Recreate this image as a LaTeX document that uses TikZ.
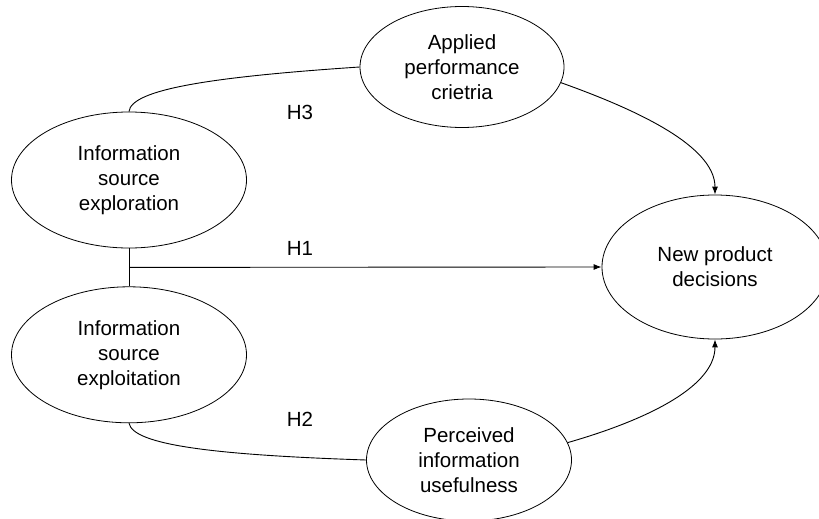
\documentclass[tikz,border=0pt]{standalone}
\usepackage{fontspec}
\setmainfont{Liberation Sans}
\usetikzlibrary{arrows.meta,positioning,shapes.geometric}

\begin{document}
\begin{tikzpicture}[
  x=1pt, y=-1pt,
  font=\fontsize{20.5}{25}\selectfont,
  construct/.style={draw, ellipse, align=center, inner sep=0pt, line width=0.8pt},
  link/.style={line width=0.9pt},
  arr/.style={-{Latex[length=8pt,width=6pt]}, line width=0.9pt}
]
\useasboundingbox (0,0) rectangle (819,519);
\node[construct, minimum width=235pt, minimum height=136pt] (explore) at (129,180) {Information\\source\\exploration};
\node[construct, minimum width=235pt, minimum height=136pt, below=38pt of explore] (exploit) {Information\\source\\exploitation};
\node[construct, minimum width=204pt, minimum height=121pt] (criteria) at (462,67) {Applied\\performance\\crietria};
\node[construct, minimum width=226pt, minimum height=144pt] (decide) at (715,267) {New product\\decisions};
\node[construct, minimum width=205pt, minimum height=122pt] (useful) at (469,460) {Perceived\\information\\usefulness};

\node (h3) at (300,112) {H3};
\node (h1) at (300,248) {H1};
\node (h2) at (300,419) {H2};

\draw[link] (explore.south) -- (exploit.north) coordinate[midway] (join);
\draw[arr] (join) -- (decide.west);
\draw[link] (explore.north) .. controls +(2,-22) and +(-150,10) .. (criteria.west);
\draw[arr] (criteria.-9) .. controls +(70,25) and +(0,-50) .. (decide.north);
\draw[link] (exploit.south) .. controls +(4,22) and +(-150,-5) .. (useful.west);
\draw[arr] (useful.10) .. controls +(70,-20) and +(0,50) .. (decide.south);
\end{tikzpicture}
\end{document}
